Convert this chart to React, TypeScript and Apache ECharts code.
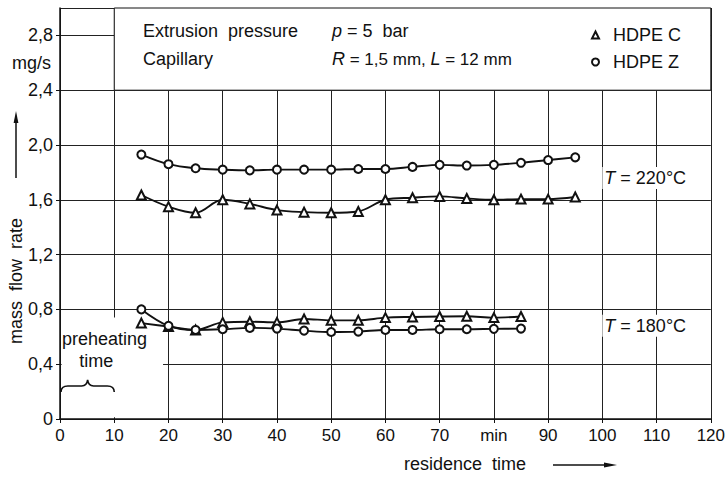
import React, { useEffect, useRef } from "react";
import * as echarts from "echarts";

// residence time (min) of the measurement points
const time220 = [15, 20, 25, 30, 35, 40, 45, 50, 55, 60, 65, 70, 75, 80, 85, 90, 95];
const time180 = [15, 20, 25, 30, 35, 40, 45, 50, 55, 60, 65, 70, 75, 80, 85];

// mass flow rate (mg/s)
const hdpeZ220 = [1.93, 1.86, 1.83, 1.82, 1.815, 1.82, 1.82, 1.82, 1.825, 1.825, 1.84, 1.855, 1.85, 1.855, 1.87, 1.89, 1.91];
const hdpeC220 = [1.635, 1.55, 1.505, 1.6, 1.57, 1.525, 1.51, 1.505, 1.515, 1.6, 1.615, 1.625, 1.61, 1.6, 1.605, 1.605, 1.62];
const hdpeZ180 = [0.8, 0.68, 0.65, 0.655, 0.665, 0.66, 0.645, 0.635, 0.638, 0.65, 0.65, 0.655, 0.655, 0.658, 0.66];
const hdpeC180 = [0.7, 0.675, 0.65, 0.705, 0.71, 0.705, 0.73, 0.72, 0.72, 0.74, 0.745, 0.748, 0.75, 0.74, 0.748];

// axes
const xMin = 0;
const xMax = 120;
const xStep = 10;
const xUnitAt = 80; // the "min" label replaces this tick
const yMin = 0;
const yMax = 3.0;
const yStep = 0.4;
const yUnitAt = 2.6; // "mg/s" label position

const FONT = "'Liberation Sans', Arial, sans-serif";
const INK = "#111";

const BRACE_W = 54;
let braceRegistered = false;
function registerBrace() {
  if (braceRegistered) return;
  braceRegistered = true;
  const d =
    "M0,12 C0,8 2,6 7,6 L21,6 C25,6 26.5,4 27,0 C27.5,4 29,6 33,6 L47,6 C52,6 54,8 54,12";
  echarts.graphic.registerShape("brace", echarts.graphic.extendPath(d, {}) as any);
}

const fmtY = (v: number) => {
  if (Math.abs(v) < 1e-9) return "0";
  if (v > 2.9) return "";
  return v.toFixed(1).replace(".", ",");
};

const lineSeries = (name: string, xs: number[], ys: number[], symbol: string, size: number, extra: any = {}) => ({
  type: "line",
  name,
  data: xs.map((x, i) => [x, ys[i]]),
  smooth: 0.35,
  symbol,
  symbolSize: size,
  showAllSymbol: true,
  lineStyle: { color: INK, width: 1.9 },
  itemStyle: { color: INK, borderWidth: 1.2 },
  z: 5,
  ...extra,
});

export default function App() {
  const ref = useRef<HTMLDivElement>(null);

  useEffect(() => {
    if (!ref.current) return;
    document.body.style.margin = "0";
    registerBrace();
    const chart = echarts.init(ref.current, undefined, { renderer: "svg" });

    const option: any = {
      animation: false,
      backgroundColor: "#fff",
      textStyle: { fontFamily: FONT, color: INK },
      grid: { left: 60, right: 15, top: 8, bottom: 58, containLabel: false },
      legend: {
        orient: "vertical",
        left: 586,
        top: 21,
        itemWidth: 7,
        itemHeight: 7,
        itemGap: 9,
        selectedMode: false,
        lineStyle: { opacity: 0 },
        itemStyle: { borderWidth: 1 },
        textStyle: { fontFamily: FONT, fontSize: 18, color: INK, padding: [0, 0, 0, 9] },
        data: [
          { name: "HDPE C", icon: "emptyTriangle" },
          { name: "HDPE Z", icon: "emptyCircle" },
        ],
      },
      xAxis: {
        type: "value",
        min: xMin,
        max: xMax,
        interval: xStep,
        axisLine: { show: true, lineStyle: { color: INK, width: 1.5 } },
        axisTick: { show: true, length: 4, lineStyle: { color: INK } },
        splitLine: { show: true, lineStyle: { color: "#222", width: 1 } },
        axisLabel: {
          fontFamily: FONT,
          fontSize: 17,
          color: INK,
          margin: 8,
          formatter: (v: number) => (v === xUnitAt ? "min" : String(v)),
        },
      },
      yAxis: [
        {
          type: "value",
          min: yMin,
          max: yMax,
          interval: yStep,
          axisLine: { show: true, lineStyle: { color: INK, width: 1.5 } },
          axisTick: { show: true, length: 4, lineStyle: { color: INK } },
          splitLine: { show: true, lineStyle: { color: "#222", width: 1 } },
          axisLabel: {
            fontFamily: FONT,
            fontSize: 18,
            color: INK,
            margin: 7,
            showMaxLabel: false,
            formatter: fmtY,
          },
        },
        {
          type: "value",
          min: yMin,
          max: yMax,
          interval: 0.2,
          position: "left",
          axisLine: { show: false },
          axisTick: { show: false },
          splitLine: { show: false },
          axisLabel: {
            fontFamily: FONT,
            fontSize: 18,
            color: INK,
            margin: 9,
            formatter: (v: number) => (Math.abs(v - yUnitAt) < 1e-6 ? "mg/s" : ""),
          },
        },
      ],
      series: [
        lineSeries("HDPE C", time220, hdpeC220, "emptyTriangle", 9, {
          markArea: {
            silent: true,
            label: { show: false },
            itemStyle: { color: "#fff", opacity: 1, borderColor: INK, borderWidth: 1 },
            data: [[{ coord: [10, 2.4] }, { coord: [120, 3.0] }]],
          },
        }),
        lineSeries("HDPE Z", time220, hdpeZ220, "emptyCircle", 8, {
          markArea: {
            silent: true,
            label: { show: false },
            itemStyle: { color: "#fff", opacity: 1, borderWidth: 0 },
            data: [[{ coord: [0.3, 0.012] }, { coord: [19, 0.74] }]],
          },
        }),
        lineSeries("HDPE C", time180, hdpeC180, "emptyTriangle", 9),
        lineSeries("HDPE Z", time180, hdpeZ180, "emptyCircle", 8),
      ],
    };
    chart.setOption(option);

    const px = (x: number, y: number) =>
      chart.convertToPixel({ xAxisIndex: 0, yAxisIndex: 0 }, [x, y]) as number[];

    const p0 = px(0, 0.285);
    const p10 = px(10, 0.285);
    const preA = px(8.2, 0.585);
    const preB = px(6.7, 0.425);
    const t220 = px(100, 1.76);
    const t180 = px(100, 0.68);

    const txt = (x: number, y: number, text: string, extra: any = {}) => ({
      type: "text",
      x,
      y,
      z: 100,
      style: {
        text,
        font: `18px ${FONT}`,
        fill: INK,
        align: "left",
        verticalAlign: "middle",
        ...extra,
      },
    });

    const richItalic = {
      i: { fontStyle: "italic", fontSize: 18, fontFamily: FONT, fill: INK },
    };

    chart.setOption({
      graphic: [
        // y-axis name and arrow
        {
          type: "text",
          x: 16,
          y: 281,
          rotation: Math.PI / 2,
          z: 100,
          style: { text: "mass  flow  rate", font: `18px ${FONT}`, fill: INK, align: "center", verticalAlign: "middle" },
        },
        { type: "line", z: 100, shape: { x1: 16, y1: 178, x2: 16, y2: 120 }, style: { stroke: INK, lineWidth: 1.5 } },
        { type: "polygon", z: 100, shape: { points: [[16, 111], [13.6, 123], [18.4, 123]] }, style: { fill: INK } },
        // x-axis name and arrow
        txt(404, 464, "residence  time"),
        { type: "line", z: 100, shape: { x1: 553, y1: 465, x2: 606, y2: 465 }, style: { stroke: INK, lineWidth: 1.5 } },
        { type: "polygon", z: 100, shape: { points: [[617, 465], [604, 462.6], [604, 467.4]] }, style: { fill: INK } },
        // info box
        txt(143, 31, "Extrusion  pressure"),
        txt(143, 59, "Capillary"),
        {
          type: "text",
          x: 332,
          y: 31,
          z: 100,
          style: {
            text: "{i|p} = 5  bar",
            font: `18px ${FONT}`,
            fill: INK,
            verticalAlign: "middle",
            rich: richItalic,
          },
        },
        {
          type: "text",
          x: 332,
          y: 59,
          z: 100,
          style: {
            text: "{i|R} = 1,5 mm, {i|L} = 12 mm",
            font: `17px ${FONT}`,
            fill: INK,
            verticalAlign: "middle",
            rich: richItalic,
          },
        },
        // preheating annotation
        txt(preA[0], preA[1], "preheating", { align: "center" }),
        txt(preB[0], preB[1], "time", { align: "center" }),
        {
          type: "brace",
          x: p0[0] + 1,
          y: p0[1],
          scaleX: (p10[0] - p0[0] - 1) / BRACE_W,
          scaleY: 1,
          z: 100,
          style: { stroke: INK, fill: "none", lineWidth: 1.6 },
        },
        // temperature labels
        txt(t220[0], t220[1], "{i|T} = 220°C", {
          backgroundColor: "#fff",
          padding: [2, 2],
          rich: richItalic,
        }),
        txt(t180[0], t180[1], "{i|T} = 180°C", {
          backgroundColor: "#fff",
          padding: [2, 2],
          rich: richItalic,
        }),
      ],
    });

    return () => chart.dispose();
  }, []);

  return <div ref={ref} style={{ width: 728, height: 477 }} />;
}
